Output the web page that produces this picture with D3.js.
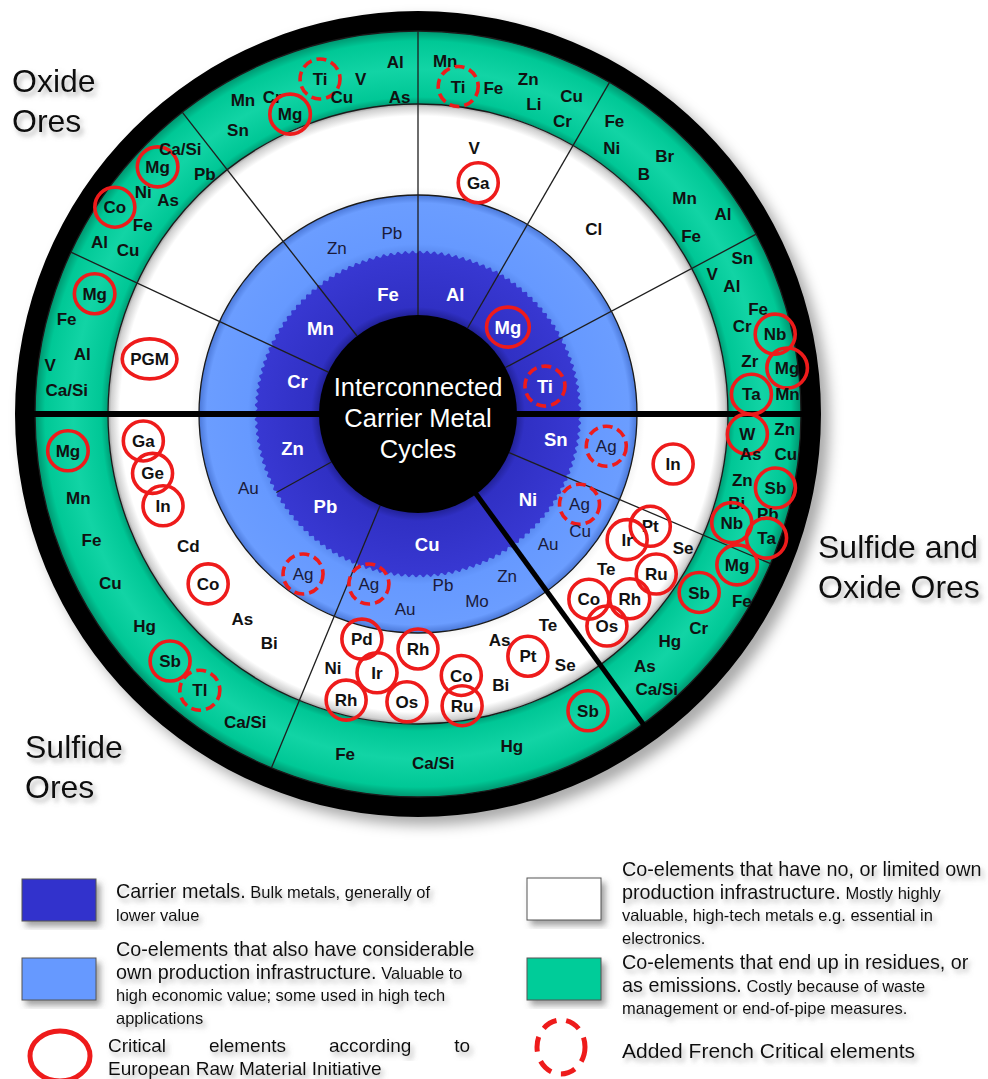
<!DOCTYPE html>
<html>
<head>
<meta charset="utf-8">
<title>Interconnected Carrier Metal Cycles</title>
<style>
  body { margin: 0; background: #fff; }
  svg { display: block; font-family: "Liberation Sans", Arial, sans-serif; }
</style>
</head>
<body>
<div id="chart"></div>
<script src="https://d3js.org/d3.v7.min.js"></script>
<script>
var W = 988, H = 1079;
var cx = 418, cy = 414;
var rCore = 99, rCarrier = 162, rBlue = 219, rWhite = 310, rGreen = 383, rRim = 403;

// sector boundaries, degrees clockwise from 12 o'clock
var thinLines = [-65, -38, 0, 30, 62, 113, 202.5];
var thickLines = [-90, 90, 144];
var carrierOnlyLines = [241];

// [element, angle, radius, critical: 'eu' | 'fr' | '']
var carriers = [
  ['Cr', -74.7, 125, ''], ['Mn', -48.7, 130, ''], ['Fe', -14.1, 123, ''],
  ['Al', 17.3, 125, ''], ['Mg', 46.0, 125, 'eu'], ['Ti', 77.6, 130, 'fr'],
  ['Sn', 100.3, 140, ''], ['Ni', 127.7, 139, ''], ['Cu', 176, 131, ''],
  ['Pb', 225, 131, ''], ['Zn', 254.9, 130, '']
];

var blueEls = [
  ['Zn', -26.0, 185, ''], ['Pb', -8.2, 183, ''],
  ['Ag', 99.7, 191, 'fr'],
  ['Ag', 119.2, 185, 'fr'], ['Cu', 125.8, 200, ''], ['Au', 135, 184, ''],
  ['Zn', 151.2, 185, ''], ['Mo', 162.5, 196, ''], ['Pb', 171.7, 173, ''],
  ['Au', 183.8, 195, ''], ['Ag', 196.1, 177, 'fr'],
  ['Ag', 215.7, 197, 'fr'], ['Au', 246.5, 185, '']
];

var whiteEls = [
  ['PGM', -78.4, 274, 'eu'],
  ['V', 11.9, 272, ''], ['Ga', 14.6, 239, 'eu'],
  ['Cl', 43.6, 255, ''],
  ['In', 101.1, 260, 'eu'],
  ['Pt', 115.8, 258, 'eu'], ['Se', 116.8, 297, ''], ['Ir', 121, 244, 'eu'],
  ['Ru', 123.9, 287, 'eu'], ['Te', 129.5, 244, ''], ['Rh', 131.1, 281, 'eu'],
  ['Co', 137.3, 252, 'eu'], ['Os', 138.3, 284, 'eu'],
  ['Te', 148.4, 248, ''], ['Se', 149.6, 291, ''], ['Pt', 155.6, 266, 'eu'],
  ['As', 160.1, 240, ''], ['Bi', 163, 283, ''], ['Co', 170.6, 265, 'eu'],
  ['Ru', 171.4, 295, 'eu'], ['Rh', 180, 235, 'eu'], ['Os', 182.2, 288, 'eu'],
  ['Ir', 189, 262, 'eu'], ['Pd', 194, 232, 'eu'], ['Rh', 194.1, 295, 'eu'],
  ['Ni', 198.5, 268, ''],
  ['Bi', 213, 273, ''], ['As', 220.6, 270, ''], ['Co', 231, 270, 'eu'],
  ['Cd', 240.1, 265, ''], ['In', 250.2, 271, 'eu'], ['Ge', 257.4, 272, 'eu'],
  ['Ga', 264.4, 276, 'eu']
];

var greenEls = [
  ['Ca/Si', -86.1, 352, ''], ['V', -82.4, 371, ''], ['Al', -79.9, 341, ''],
  ['Fe', -74.9, 364, ''], ['Mg', -69.6, 345, 'eu'],
  ['Al', -61.6, 362, ''], ['Cu', -60.5, 333, ''], ['Co', -55.7, 367, 'eu'],
  ['Fe', -55.5, 334, ''], ['Ni', -51.1, 353, ''], ['As', -49.4, 329, ''],
  ['Mg', -46.5, 359, 'eu'], ['Ca/Si', -41.9, 356, ''], ['Pb', -41.6, 321, ''],
  ['Sn', -32.4, 336, ''], ['Mn', -29.1, 360, ''], ['Cr', -24.7, 349, ''],
  ['Mg', -23.1, 326, 'eu'], ['Ti', -16.3, 349, 'fr'], ['Cu', -13.5, 326, ''],
  ['V', -9.7, 340, ''], ['Al', -3.7, 353, ''], ['As', -3.3, 318, ''],
  ['Mn', 4.4, 354, ''], ['Ti', 7.0, 330, 'fr'], ['Fe', 13.0, 335, ''],
  ['Zn', 18.2, 353, ''], ['Li', 20.5, 331, ''], ['Cu', 25.8, 353, ''],
  ['Cr', 26.2, 327, ''],
  ['Fe', 33.8, 353, ''], ['Ni', 36.1, 329, ''], ['Br', 43.7, 357, ''],
  ['B', 43.2, 330, ''], ['Mn', 51.0, 343, ''], ['Al', 56.7, 365, ''],
  ['Fe', 56.9, 326, ''],
  ['Sn', 64.3, 360, ''], ['V', 64.5, 326, ''], ['Al', 67.8, 339, ''],
  ['Fe', 72.8, 356, ''], ['Cr', 74.8, 336, ''], ['Nb', 77.4, 366, 'eu'],
  ['Zr', 80.9, 336, ''], ['Mg', 82.9, 372, 'eu'], ['Ta', 86.6, 334, 'eu'],
  ['Mn', 86.9, 370, ''],
  ['Zn', 92.3, 367, ''], ['W', 93.5, 330, 'eu'], ['Cu', 96.2, 370, ''],
  ['As', 96.8, 335, ''], ['Zn', 101.5, 331, ''], ['Sb', 101.7, 365, 'eu'],
  ['Bi', 105.6, 331, ''], ['Pb', 106, 364, ''], ['Nb', 109.1, 332, 'eu'],
  ['Ta', 109.6, 370, 'eu'],
  ['Mg', 115.3, 353, 'eu'], ['Fe', 120.0, 374, ''], ['Sb', 122.4, 333, 'eu'],
  ['Cr', 127.3, 353, ''], ['Hg', 132, 339, ''], ['As', 138, 339, ''],
  ['Ca/Si', 139, 364, ''],
  ['Sb', 150.2, 342, 'eu'], ['Hg', 164.2, 345, ''], ['Ca/Si', 177.5, 349, ''],
  ['Fe', 192.1, 348, ''],
  ['Ca/Si', 209.3, 353, ''], ['Tl', 218.3, 352, 'fr'], ['Sb', 225.1, 350, 'eu'],
  ['Hg', 232.2, 346, ''], ['Cu', 241.2, 351, ''], ['Fe', 248.9, 350, ''],
  ['Mn', 256.1, 350, ''], ['Mg', 264, 352, 'eu']
];

var centerTitle = ['Interconnected', 'Carrier Metal', 'Cycles'];
var regionNames = [['Oxide', 'Ores'], ['Sulfide and', 'Oxide Ores'], ['Sulfide', 'Ores']];

var legendItems = [
  { fill: '#3333cc', lines: [['Carrier metals.', ' Bulk metals, generally of'], ['', 'lower value']] },
  { fill: '#6699ff', lines: [['Co-elements that also have considerable', ''], ['own production infrastructure.', ' Valuable to'],
      ['', 'high economic value; some used in high tech'], ['', 'applications']] },
  { fill: '#ffffff', lines: [['Co-elements that have no, or limited own', ''], ['production infrastructure.', ' Mostly highly'],
      ['', 'valuable, high-tech metals e.g. essential in'], ['', 'electronics.']] },
  { fill: '#00cc99', lines: [['Co-elements that end up in residues, or', ''], ['as emissions.', ' Costly because of waste'],
      ['', 'management or end-of-pipe measures.']] }
];
var critLegend = ['Critical elements according to', 'European Raw Material Initiative'];
var frLegend = 'Added French Critical elements';

var RED = '#ee1b1b';

var svg = d3.select('#chart').append('svg').attr('width', W).attr('height', H);
svg.append('rect').attr('width', W).attr('height', H).attr('fill', '#fff');
var defs = svg.append('defs');

function dropShadow(id, dx, dy, sd, color, op) {
  defs.append('filter').attr('id', id).attr('x', '-20%').attr('y', '-20%').attr('width', '140%').attr('height', '140%')
    .append('feDropShadow').attr('dx', dx).attr('dy', dy).attr('stdDeviation', sd)
    .attr('flood-color', color).attr('flood-opacity', op);
}
dropShadow('wheelShadow', 8, 8, 7, '#000', 0.35);
dropShadow('textShadow', 3, 4, 2.5, '#777', 0.55);
dropShadow('boxShadow', 4, 5, 3, '#555', 0.55);

function radial(id, stops) {
  var gr = defs.append('radialGradient').attr('id', id).attr('gradientUnits', 'userSpaceOnUse')
    .attr('cx', 0).attr('cy', 0).attr('r', rRim);
  stops.forEach(function(s) {
    gr.append('stop').attr('offset', s[0] / rRim).attr('stop-color', s[1]);
  });
}
radial('gGreen', [[rWhite, '#009c75'], [rWhite + 7, '#00c796'], [345, '#12d4a5'], [rGreen - 10, '#00c896'], [rGreen, '#00956f']]);
radial('gWhite', [[rBlue, '#f4f4f4'], [rBlue + 8, '#ffffff'], [rWhite - 12, '#ffffff'], [rWhite - 3, '#d0d0d0'], [rWhite, '#9a9a9a']]);
radial('gBlue', [[rCarrier, '#5b8cf2'], [rCarrier + 8, '#6699ff'], [rBlue - 8, '#6b9dff'], [rBlue, '#4b78d8']]);
radial('gCarrier', [[rCore, '#22229a'], [rCore + 8, '#3030c4'], [rCarrier, '#3838d2']]);

var ang = d3.scaleLinear().domain([0, 360]).range([0, 2 * Math.PI]);
var rad = d3.scaleLinear().domain([0, rRim]).range([0, rRim]);
function pos(a, r) {
  var t = ang(a);
  return [rad(r) * Math.sin(t), -rad(r) * Math.cos(t)];
}

var wheel = svg.append('g').attr('transform', 'translate(' + cx + ',' + cy + ')');
var ring = d3.arc().startAngle(0).endAngle(2 * Math.PI);

wheel.append('path').attr('d', ring({ innerRadius: rGreen - 1, outerRadius: rRim }))
  .attr('fill', '#000').attr('filter', 'url(#wheelShadow)');
wheel.append('path').attr('d', ring({ innerRadius: rWhite, outerRadius: rGreen }))
  .attr('fill', 'url(#gGreen)');
wheel.append('path').attr('d', ring({ innerRadius: rBlue, outerRadius: rWhite }))
  .attr('fill', 'url(#gWhite)');
wheel.append('path').attr('d', ring({ innerRadius: rCore, outerRadius: rBlue }))
  .attr('fill', 'url(#gBlue)');

// carrier band with serrated outer edge
var wavy = d3.range(0, 1440).map(function(i) {
  var a = i / 1440 * 2 * Math.PI;
  return [a, rCarrier + 1.4 * Math.sin(a * 140)];
});
wheel.append('path')
  .attr('d', d3.lineRadial().angle(function(d) { return d[0]; }).radius(function(d) { return d[1]; })
    .curve(d3.curveLinearClosed)(wavy))
  .attr('fill', 'url(#gCarrier)');

// ring outlines
[rBlue, rWhite, rGreen].forEach(function(r) {
  wheel.append('circle').attr('r', r).attr('fill', 'none').attr('stroke', '#1a1a1a').attr('stroke-width', 1.3);
});

function spoke(a, r0, r1, w, col) {
  var p0 = pos(a, r0), p1 = pos(a, r1);
  wheel.append('line').attr('x1', p0[0]).attr('y1', p0[1]).attr('x2', p1[0]).attr('y2', p1[1])
    .attr('stroke', col).attr('stroke-width', w);
}
thinLines.forEach(function(a) { spoke(a, rCore, rGreen, 1.3, '#1e1e1e'); });
carrierOnlyLines.forEach(function(a) { spoke(a, rCore, rCarrier, 1.3, '#1e1e1e'); });
thickLines.forEach(function(a) { spoke(a, rCore - 2, rGreen + 1, a === 144 ? 5 : 6, '#000'); });

wheel.append('circle').attr('r', rCore).attr('fill', '#000');

wheel.append('g').selectAll('text').data(centerTitle).join('text')
  .attr('x', 0).attr('y', function(d, i) { return (i - 1) * 31 + 4; })
  .attr('dy', '0.36em').attr('text-anchor', 'middle')
  .style('font-size', '25.5px').style('fill', '#fff').text(function(d) { return d; });

function drawLabels(data, size, weight, color) {
  var grp = wheel.append('g');
  data.forEach(function(d) {
    var p = pos(d[1], d[2]);
    var t = grp.append('text').attr('x', p[0]).attr('y', p[1]).attr('dy', '0.36em')
      .attr('text-anchor', 'middle').style('font-size', size + 'px').style('font-weight', weight)
      .style('fill', color).text(d[0]);
    if (d[3]) {
      var w = t.node().getComputedTextLength();
      grp.append('ellipse').attr('cx', p[0]).attr('cy', p[1])
        .attr('rx', Math.max(20, w / 2 + 8)).attr('ry', 20)
        .attr('fill', 'none').attr('stroke', RED).attr('stroke-width', 3.6)
        .attr('stroke-dasharray', d[3] === 'fr' ? '10,5' : null);
    }
  });
}
drawLabels(greenEls, 17, 'bold', '#111');
drawLabels(whiteEls, 17, 'bold', '#111');
drawLabels(blueEls, 17, 'normal', '#1a1a3a');
drawLabels(carriers, 18.5, 'bold', '#fff');

// region names
var regionPos = [[12, 92], [818, 558], [25, 758]];
regionNames.forEach(function(lines, i) {
  var t = svg.append('text').attr('x', regionPos[i][0]).attr('y', regionPos[i][1])
    .style('font-size', '32px').style('fill', '#111').attr('filter', 'url(#textShadow)');
  lines.forEach(function(l, j) {
    t.append('tspan').attr('x', regionPos[i][0]).attr('dy', j ? 40 : 0).text(l);
  });
});

// legend
var legendPos = [[22, 879, 116, 898], [22, 958, 116, 956], [527, 878, 622, 876], [527, 958, 622, 969]];
legendItems.forEach(function(it, i) {
  var lp = legendPos[i];
  svg.append('rect').attr('x', lp[0]).attr('y', lp[1]).attr('width', 74).attr('height', 42)
    .attr('fill', it.fill).attr('stroke', '#555').attr('stroke-width', 1).attr('filter', 'url(#boxShadow)');
  var t = svg.append('text').attr('filter', 'url(#textShadow)').style('fill', '#111');
  it.lines.forEach(function(l, j) {
    var line = t.append('tspan').attr('x', lp[2]).attr('y', lp[3] + j * 22.5);
    if (l[0]) line.append('tspan').style('font-size', '19.8px').text(l[0]);
    if (l[1]) line.append('tspan').style('font-size', '16.5px').text(l[1]);
  });
});

svg.append('ellipse').attr('cx', 60).attr('cy', 1056).attr('rx', 30).attr('ry', 25)
  .attr('fill', 'none').attr('stroke', RED).attr('stroke-width', 5);
svg.append('ellipse').attr('cx', 561).attr('cy', 1047).attr('rx', 24).attr('ry', 27)
  .attr('fill', 'none').attr('stroke', RED).attr('stroke-width', 5).attr('stroke-dasharray', '15,10');

// justified first line of the EU legend text
var words = critLegend[0].split(' ');
var wx0 = 108, wx1 = 470;
var wg = svg.append('g').attr('filter', 'url(#textShadow)');
var wnodes = words.map(function(w) {
  return wg.append('text').attr('y', 1052).style('font-size', '19px').style('fill', '#111').text(w);
});
var tot = d3.sum(wnodes, function(n) { return n.node().getComputedTextLength(); });
var gap = (wx1 - wx0 - tot) / (words.length - 1), xx = wx0;
wnodes.forEach(function(n) { n.attr('x', xx); xx += n.node().getComputedTextLength() + gap; });
svg.append('text').attr('x', 108).attr('y', 1075).style('font-size', '19px').style('fill', '#111')
  .attr('filter', 'url(#textShadow)').text(critLegend[1]);

svg.append('text').attr('x', 622).attr('y', 1058).style('font-size', '21px').style('fill', '#111')
  .attr('filter', 'url(#textShadow)').text(frLegend);
</script>
</body>
</html>
